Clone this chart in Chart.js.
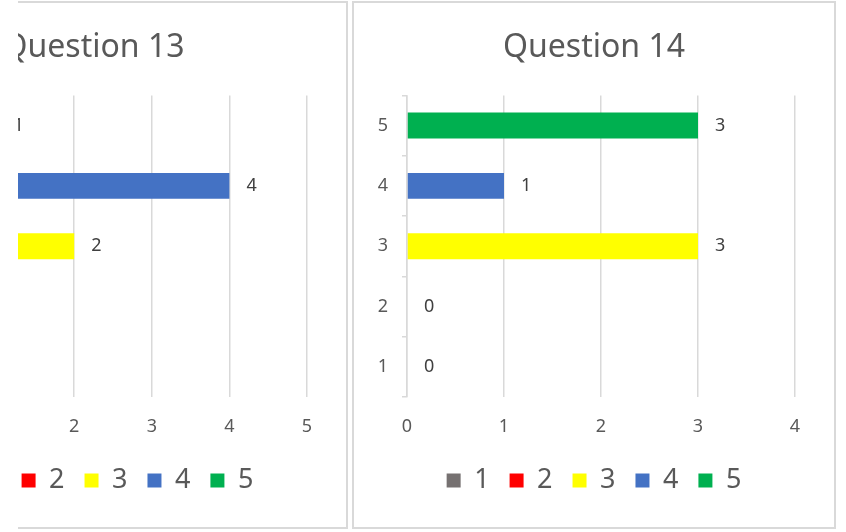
<!DOCTYPE html>
<html>
<head>
<meta charset="utf-8">
<script src="https://cdn.jsdelivr.net/npm/chart.js@4.4.1/dist/chart.umd.min.js"></script>
<style>
  html, body { margin: 0; padding: 0; background: #fff; }
  #page { position: relative; width: 846px; height: 532px; overflow: hidden; background: #fff; }
  .clip { position: absolute; top: 0; height: 532px; overflow: hidden; }
  .panel { position: absolute; top: 1px; width: 480px; height: 524px; border: 2px solid #d9d9d9; background: #fff; }
</style>
</head>
<body>
<div id="page">
  <div class="clip" style="left:18px;width:334px;">
    <div class="panel" style="left:-154px;"><canvas id="q13" width="480" height="524"></canvas></div>
  </div>
  <div class="panel" style="left:352px;"><canvas id="q14" width="480" height="524"></canvas></div>
</div>
<script>
    "use strict";

    // Data
    var categories = ['1', '2', '3', '4', '5'];
    var barColors = ['#767171', '#FF0000', '#FFFF00', '#4472C4', '#00B050'];
    var q13Values = [0, 0, 2, 4, 1];
    var q14Values = [0, 0, 3, 1, 3];
    var q13Max = 5;
    var q14Max = 4;

    var fontFamily = '"Noto Sans", "Open Sans", sans-serif';
    var textColor = '#595959';
    var gridColor = '#d9d9d9';

    // Value labels to the right of each bar
    var barLabels = {
        id: 'barLabels',
        afterDatasetsDraw: function (chart) {
            var ctx = chart.ctx;
            var values = chart.data.datasets[0].data;
            ctx.save();
            ctx.font = '18px ' + fontFamily;
            ctx.fillStyle = '#404040';
            ctx.textAlign = 'left';
            ctx.textBaseline = 'middle';
            chart.getDatasetMeta(0).data.forEach(function (bar, i) {
                ctx.fillText(String(values[i]), bar.x + 17, bar.y);
            });
            ctx.restore();
        }
    };

    function makeChart(id, title, values, max) {
        return new Chart(document.getElementById(id).getContext('2d'), {
            type: 'bar',
            data: {
                labels: categories,
                datasets: [{
                    label: title,
                    data: values,
                    backgroundColor: barColors,
                    categoryPercentage: 1,
                    barPercentage: 0.43
                }]
            },
            options: {
                responsive: false,
                animation: false,
                indexAxis: 'y',
                layout: { padding: { left: 0, right: 0, top: 0, bottom: 23 } },
                plugins: {
                    title: {
                        display: true,
                        text: title,
                        color: textColor,
                        font: { family: fontFamily, size: 32, weight: 'normal' },
                        padding: { top: 26, bottom: 28 }
                    },
                    legend: {
                        position: 'bottom',
                        onClick: null,
                        labels: {
                            boxWidth: 14,
                            boxHeight: 14,
                            padding: 20,
                            color: textColor,
                            font: { family: fontFamily, size: 27 },
                            generateLabels: function (chart) {
                                return chart.data.labels.map(function (l, i) {
                                    return {
                                        text: l,
                                        fillStyle: barColors[i],
                                        strokeStyle: barColors[i],
                                        fontColor: textColor,
                                        lineWidth: 0,
                                        hidden: false,
                                        index: i
                                    };
                                });
                            }
                        }
                    },
                    tooltip: { enabled: false }
                },
                scales: {
                    x: {
                        min: 0,
                        max: max,
                        ticks: { stepSize: 1, padding: 19, color: textColor, font: { family: fontFamily, size: 18 } },
                        grid: { color: gridColor, lineWidth: 1.5, drawTicks: false },
                        border: { display: false },
                        afterFit: function (scale) { scale.height = 50; }
                    },
                    y: {
                        reverse: true,
                        ticks: { padding: 14, color: textColor, font: { family: fontFamily, size: 18 } },
                        grid: { color: gridColor, lineWidth: 1.5, offset: true, drawOnChartArea: false, tickLength: 5 },
                        border: { display: true, color: gridColor, width: 1.5 },
                        afterFit: function (scale) { scale.width = 53; }
                    },
                    // empty right-hand gutter so the title and legend stay centred on the panel
                    gutter: {
                        type: 'category',
                        axis: 'y',
                        position: 'right',
                        labels: categories,
                        ticks: { display: false },
                        grid: { display: false },
                        border: { display: false },
                        afterFit: function (scale) { scale.width = 39; }
                    }
                }
            },
            plugins: [barLabels]
        });
    }

    makeChart('q13', 'Question 13   ', q13Values, q13Max);
    makeChart('q14', 'Question 14', q14Values, q14Max);
</script>
</body>
</html>
